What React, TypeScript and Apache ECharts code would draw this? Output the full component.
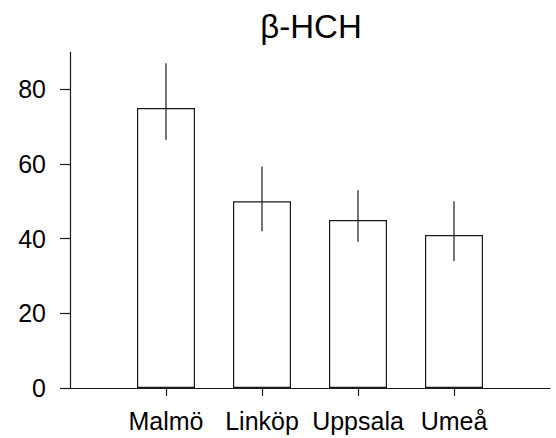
import React, { useEffect, useRef } from "react";
import * as echarts from "echarts";

const categories = ["Malmö", "Linköp", "Uppsala", "Umeå"];
const positions = [1, 2, 3, 4];
const means = [75, 50, 45, 41];
const errLow = [66.5, 42, 39.2, 34];
const errHigh = [87, 59.3, 53, 50];
const yTicks = [0, 20, 40, 60, 80];

const FONT = "Liberation Sans, Arial, sans-serif";
const INK = "#1a1a1a";

export default function App() {
  const ref = useRef<HTMLDivElement>(null);
  useEffect(() => {
    if (!ref.current) return;
    const chart = echarts.init(ref.current, null, { renderer: "svg" });
    const barData = positions.map((p, i) => [p, means[i]]);
    const errData = positions.map((p, i) => [p, errLow[i], errHigh[i]]);
    chart.setOption({
      animation: false,
      backgroundColor: "#ffffff",
      title: {
        text: "β-HCH",
        left: 306,
        top: 5,
        textAlign: "center",
        textStyle: { fontFamily: FONT, fontSize: 33, fontWeight: "normal", color: "#000" },
      },
      grid: { left: 70, right: 6, top: 52, bottom: 50, containLabel: false },
      xAxis: {
        type: "value",
        min: 0,
        max: 5,
        interval: 1,
        splitLine: { show: false },
        axisLine: { show: true, lineStyle: { color: INK, width: 1.2 } },
        axisTick: {
          show: true,
          inside: false,
          length: 8,
          customValues: positions,
          lineStyle: { color: INK, width: 1.2 },
        },
        axisLabel: {
          customValues: positions,
          margin: 20,
          fontFamily: FONT,
          fontSize: 25,
          color: "#000",
          formatter: (v: number) => categories[Math.round(v) - 1] ?? "",
        },
      },
      yAxis: {
        type: "value",
        min: 0,
        max: 90,
        interval: 20,
        splitLine: { show: false },
        axisLine: { show: true, lineStyle: { color: INK, width: 1.2 } },
        axisTick: {
          show: true,
          inside: false,
          length: 10,
          customValues: yTicks,
          lineStyle: { color: INK, width: 1.2 },
        },
        axisLabel: {
          customValues: yTicks,
          margin: 24,
          fontFamily: FONT,
          fontSize: 25,
          color: "#000",
        },
      },
      series: [
        {
          type: "bar",
          data: barData,
          barWidth: 58,
          itemStyle: { color: "#ffffff", borderColor: INK, borderWidth: 1.2 },
          z: 2,
        },
        {
          type: "custom",
          data: errData,
          z: 3,
          renderItem: (params: any, api: any) => {
            const x = api.value(0);
            const lo = api.coord([x, api.value(1)]);
            const hi = api.coord([x, api.value(2)]);
            return {
              type: "line",
              shape: { x1: lo[0], y1: lo[1], x2: hi[0], y2: hi[1] },
              style: { stroke: INK, lineWidth: 1.2 },
            };
          },
        },
      ],
    });
    return () => chart.dispose();
  }, []);
  return (
    <div
      ref={ref}
      style={{ position: "absolute", left: 0, top: 0, width: 556, height: 438 }}
    />
  );
}
